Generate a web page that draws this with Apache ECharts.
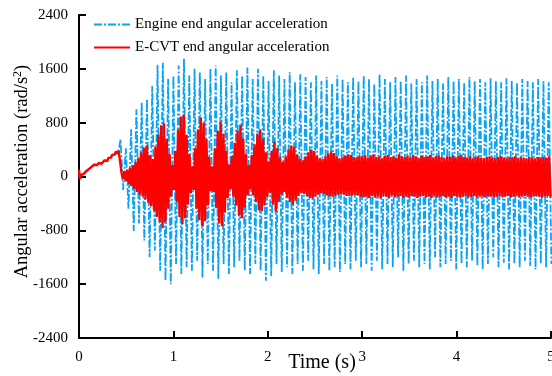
<!DOCTYPE html>
<html>
<head>
<meta charset="utf-8">
<script src="https://cdn.jsdelivr.net/npm/echarts@6/dist/echarts.min.js"></script>
<style>html,body{margin:0;padding:0;background:#fff}#c{width:552px;height:376px}</style>
</head>
<body>
<div id="c"></div>
<script>
// ---- data ----
const seriesNames = ['Engine end angular acceleration', 'E-CVT end angular acceleration'];
const xTicks = [0, 1, 2, 3, 4, 5];
const yTicks = [-2400, -1600, -800, 0, 800, 1600, 2400];

// start-up ramp, t = 0 .. 0.44 s, step 0.01 s (shared by both ends)
const rampStep = 0.01;
const rampValues = [100,-40,20,10,30,40,55,70,80,90,105,115,125,140,150,160,175,185,180,170,185,200,215,205,190,185,205,240,250,225,230,275,290,265,280,320,330,300,330,370,360,340,385,400,390];

// E-CVT end oscillation, from t = 0.45 s, step 0.015 s
const ecvtStart = 0.45, ecvtStep = 0.015;
const ecvtValues = [
60,-35,80,-70,100,-110,130,-140,170,-185,220,-230,280,-270,360,-300,430,-340,465,-390,
320,-440,260,-510,450,-600,620,-680,760,-770,790,-680,560,-480,330,-300,170,-200,380,-380,
700,-600,890,-710,920,-620,620,-420,330,-250,150,-200,420,-480,700,-650,880,-740,800,-660,
560,-430,290,-220,150,-230,420,-470,680,-700,815,-740,640,-540,380,-320,180,-190,300,-300,
500,-430,680,-580,770,-620,560,-460,330,-280,170,-190,320,-280,480,-380,640,-500,700,-520,
560,-430,360,-300,220,-240,380,-420,520,-520,420,-380,290,-270,220,-230,300,-310,400,-380,
460,-415,440,-360,330,-290,260,-250,240,-260,300,-290,360,-320,400,-325,380,-300,310,-270,
270,-250,260,-260,300,-280,340,-300,370,-300,350,-290,300,-270,270,-260,280,-270,310,-290,
330,-290,320,-280,290,-270,280,-280,300,-300,
300,-310,320,-300,280,-320,310,-290,330,-310,290,-300,300,-325,270,-290,310,-300,320,-320,
290,-280,300,-310,280,-300,330,-290,300,-320,290,-300,310,-310,280,-290,320,-300,300,-320,
270,-300,310,-290,290,-310,300,-300,320,-320,280,-290,300,-310,310,-300,290,-290,270,-310,
300,-300,290,-320,310,-290,280,-300,300,-310,320,-300,290,-290,280,-310,300,-300,270,-290,
290,-310,300,-300,280,-300,270,-310,290,-290,300,-300,280,-310,270,-300,290,-290,300,-310,
280,-300,270,-290,290,-310,280,-300,300,-290,270,-310,290,-300,280,-290,270,-300,290,-310,
280,-300,270,-290,290,-300,280,-310,290,-300,280,-290,300,-310
];

// Engine end oscillation, from t = 0.44 s, step 0.028 s
const engineStart = 0.44, engineStep = 0.028;
const engineValues = [
550,-200,420,-480,700,-810,1000,-700,1100,-950,1150,-1200,1350,-1100,1660,-1400,1690,-1550,1450,-1600,
1500,-1300,1650,-1450,1750,-1350,1500,-1400,1600,-1250,1550,-1500,1450,-1300,1600,-1400,1650,-1520,1500,-1300,
1550,-1450,1400,-1350,1580,-1250,1500,-1400,1620,-1450,1450,-1300,1600,-1400,1500,-1550,1420,-1480,1580,-1300,
1500,-1420,1450,-1350,1550,-1450,1400,-1300,1520,-1400,1480,-1250,1400,-1380,1500,-1450,1420,-1300,1480,-1400,
1380,-1350,1500,-1420,1450,-1300,1400,-1380,1480,-1250,1420,-1350,1500,-1300,1450,-1400,1380,-1250,1520,-1380,
1450,-1300,1400,-1350,1480,-1200,1420,-1400,1500,-1300,1380,-1250,1450,-1350,1400,-1300,1500,-1380,1420,-1200,
1450,-1350,1380,-1300,1480,-1250,1420,-1380,1450,-1300,1400,-1350,1480,-1250,1420,-1330,1450,-1380,1400,-1300,
1460,-1200,1420,-1350,1400,-1280,1460,-1380,1420,-1300,1400,-1350,1450,-1250,1420,-1330,1400,-1380,1450,-1300,
1420,-1350,1400,-1300
];

// ---- build series through the value axes ----
const rampPts = rampValues.map((v, i) => [+(i * rampStep).toFixed(4), v]);
const ecvtData = rampPts.concat(ecvtValues.map((v, i) => [+(ecvtStart + i * ecvtStep).toFixed(4), v]));
const engineData = rampPts.concat(engineValues.map((v, i) => [+(engineStart + i * engineStep).toFixed(4), v]));

const serif = "'Liberation Serif', 'Times New Roman', serif";
const chart = echarts.init(document.getElementById('c'), null, {renderer: 'canvas'});
chart.setOption({
  animation: false,
  backgroundColor: '#fff',
  grid: {left: 79, right: 1, top: 15, bottom: 38, containLabel: false, outerBoundsMode: 'none'},
  legend: {
    orient: 'vertical', left: 88, top: 12, itemWidth: 36, itemHeight: 14, itemGap: 8,
    textStyle: {fontFamily: serif, fontSize: 15, color: '#000'},
    itemStyle: {opacity: 0},
    data: seriesNames
  },
  xAxis: {
    type: 'value', min: xTicks[0], max: xTicks[xTicks.length - 1], interval: 1,
    name: 'Time (s)', nameLocation: 'middle', nameGap: 15, nameMoveOverlap: false,
    nameTextStyle: {fontFamily: serif, fontSize: 20, color: '#000', padding: [0, 0, 0, 14]},
    axisLine: {onZero: false, lineStyle: {color: '#000', width: 2}},
    axisTick: {inside: true, length: 7, lineStyle: {color: '#000', width: 2}},
    axisLabel: {fontFamily: serif, fontSize: 15, color: '#000', margin: 12, formatter: v => String(v)},
    splitLine: {show: false}
  },
  yAxis: {
    type: 'value', min: yTicks[0], max: yTicks[yTicks.length - 1], interval: 800,
    name: 'Angular acceleration (rad/s{sup|2})', nameLocation: 'middle', nameGap: 46, nameMoveOverlap: false,
    nameTextStyle: {fontFamily: serif, fontSize: 18.5, color: '#000', padding: [0, 0, 0, 10],
      rich: {sup: {fontFamily: serif, fontSize: 12, color: '#000', padding: [0, 0, 9, 0]}}},
    axisLine: {show: true, onZero: false, lineStyle: {color: '#000', width: 2}},
    axisTick: {show: true, inside: true, length: 7, lineStyle: {color: '#000', width: 2}},
    axisLabel: {fontFamily: serif, fontSize: 15, color: '#000', margin: 11, formatter: v => String(v)},
    splitLine: {show: false}
  },
  series: [
    {
      name: seriesNames[0], type: 'line', data: engineData, symbol: 'none', showSymbol: false,
      clip: true,
      lineStyle: {color: '#0aa2f2', width: 1.8, type: [8, 2, 2, 2]},
      itemStyle: {color: '#0aa2f2'}, z: 2
    },
    {
      name: seriesNames[1], type: 'line', data: ecvtData, symbol: 'none', showSymbol: false,
      clip: true,
      lineStyle: {color: '#ff0000', width: 2.4},
      itemStyle: {color: '#ff0000'}, z: 3
    }
  ]
});
</script>
</body>
</html>
